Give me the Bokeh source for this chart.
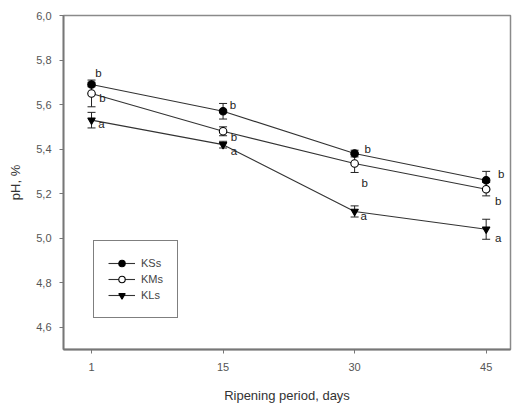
from bokeh.plotting import figure
from bokeh.models import (Range1d, FixedTicker, ColumnDataSource, Whisker, TeeHead,
                          Legend, LegendItem)
from bokeh.embed import file_html
from bokeh.resources import INLINE
from bokeh.core.properties import value

# ---- data ----
days = ["1", "15", "30", "45"]
series_names = ["KSs", "KMs", "KLs"]
ks_mean = [5.69, 5.57, 5.38, 5.26]
ks_err = [0.01, 0.035, 0.015, 0.04]
km_mean = [5.65, 5.48, 5.335, 5.22]
km_err = [0.06, 0.02, 0.04, 0.03]
kl_mean = [5.53, 5.42, 5.12, 5.04]
kl_err = [0.035, 0.015, 0.025, 0.045]
ks_letters = ["b", "b", "b", "b"]
km_letters = ["b", "b", "b", "b"]
kl_letters = ["a", "a", "a", "a"]
y_ticks = [4.6, 4.8, 5.0, 5.2, 5.4, 5.6, 5.8, 6.0]

# letter placement offsets (pixels, style only)
ks_off = ([7, 10, 13, 15], [-12, -6, -5, -6])
km_off = ([11, 11, 10, 12], [5, 6, 19, 12])
kl_off = ([10, 11, 9, 12], [4, 6, 5, 9])

FONT = "Liberation Sans"
xpos = list(range(len(days)))

p = figure(width=512, height=405, output_backend="svg", toolbar_location=None,
           x_range=Range1d(-0.213, 3.185), y_range=Range1d(4.5, 6.0),
           min_border_left=63, min_border_right=2, min_border_top=15,
           min_border_bottom=54)
p.background_fill_color = "white"
p.border_fill_color = "white"
p.outline_line_color = "#8a8a8a"
p.outline_line_width = 1.5
p.xgrid.visible = False
p.ygrid.visible = False

p.xaxis.ticker = FixedTicker(ticks=xpos)
p.xaxis.major_label_overrides = {i: d for i, d in zip(xpos, days)}
p.yaxis.ticker = FixedTicker(ticks=y_ticks)
p.yaxis.major_label_overrides = {t: f"{t:.1f}".replace(".", ",") for t in y_ticks}

for ax in (p.xaxis[0], p.yaxis[0]):
    ax.axis_line_color = "#777777"
    ax.axis_line_width = 1.8
    ax.major_tick_line_color = "#777777"
    ax.major_tick_out = 4
    ax.major_tick_in = 0
    ax.minor_tick_out = 0
    ax.minor_tick_in = 0
    ax.major_label_text_font = FONT
    ax.major_label_text_font_size = "11px"
    ax.major_label_text_color = "#555555"
    ax.axis_label_text_font = FONT
    ax.axis_label_text_font_size = "13px"
    ax.axis_label_text_font_style = "normal"
    ax.axis_label_text_color = "#333333"

p.xaxis.axis_label = "Ripening period, days"
p.xaxis.major_label_standoff = 9
p.xaxis.axis_label_standoff = 14
p.yaxis.axis_label = "pH, %"
p.yaxis.major_label_standoff = 8
p.yaxis.axis_label_standoff = 10

styles = [
    (ks_mean, ks_err, ks_letters, ks_off, "circle", "black"),
    (km_mean, km_err, km_letters, km_off, "circle", "white"),
    (kl_mean, kl_err, kl_letters, kl_off, "inverted_triangle", "black"),
]

items = []
for name, (mean, err, letters, off, marker, fill) in zip(series_names, styles):
    src = ColumnDataSource(dict(
        x=xpos, y=mean,
        upper=[m + e for m, e in zip(mean, err)],
        lower=[m - e for m, e in zip(mean, err)],
        lab=letters, dx=off[0], dy=off[1]))
    w = Whisker(source=src, base="x", upper="upper", lower="lower",
                line_color="#222222", line_width=1,
                upper_head=TeeHead(size=8, line_color="#222222", line_width=1),
                lower_head=TeeHead(size=8, line_color="#222222", line_width=1))
    p.add_layout(w)
    ln = p.line("x", "y", source=src, line_color="#333333", line_width=1.1)
    sc = p.scatter("x", "y", source=src, marker=marker, size=7.5,
                   fill_color=fill, line_color="black", line_width=1.1)
    p.text("x", "y", text="lab", source=src, x_offset="dx", y_offset="dy",
           text_font=value(FONT), text_font_size="11.5px", text_color="#222222",
           text_align="center", text_baseline="middle")
    items.append(LegendItem(label=name, renderers=[ln, sc]))

legend = Legend(items=items, location=(30, 31), orientation="vertical",
                border_line_color="black", border_line_width=1,
                background_fill_color="white", background_fill_alpha=1,
                label_text_font=FONT, label_text_font_size="11px",
                label_text_color="#444444", glyph_width=27, glyph_height=16,
                label_height=16, spacing=0, padding=14, label_standoff=6,
                margin=0)
p.add_layout(legend, "center")

open("out.html", "w").write(file_html(p, INLINE))
